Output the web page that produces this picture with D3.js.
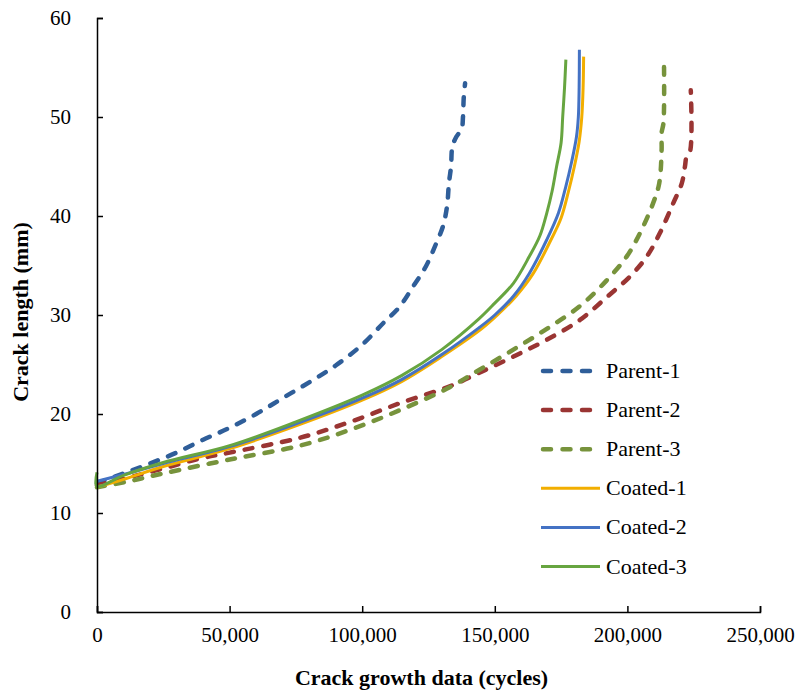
<!DOCTYPE html>
<html>
<head>
<meta charset="utf-8">
<script src="https://cdn.jsdelivr.net/npm/d3@7"></script>
<style>
  html, body { margin: 0; padding: 0; background: #fff; }
  svg { display: block; }
  svg text { font-family: "Liberation Serif", "Times New Roman", Tinos, "DejaVu Serif", serif; fill: #000; }
</style>
</head>
<body>
<svg id="chart" width="802" height="693"></svg>
<script>
// ---- Data ----
const seriesNames = ["Parent-1", "Parent-2", "Parent-3", "Coated-1", "Coated-2", "Coated-3"];

const parent1Cycles = [0, 10000, 20000, 30000, 40000, 50000, 60000, 70000, 80000, 90000, 100000, 108000, 114000, 119000, 124000, 128000, 130500, 132000, 132700, 133500, 134000, 135500, 137500, 138000, 138300, 138800];
const parent1Length = [13.0, 14.0, 15.0, 16.1, 17.4, 18.6, 20.0, 21.6, 23.2, 24.9, 27.0, 29.2, 30.8, 32.8, 34.9, 37.3, 39.0, 41.0, 43.3, 45.0, 47.0, 48.0, 48.8, 50.0, 52.0, 53.4];

const parent2Cycles = [0, 12000, 25000, 38800, 50000, 76500, 95400, 114300, 133000, 144400, 157000, 169600, 182100, 192200, 201000, 207300, 212300, 217300, 220500, 221700, 222300, 223600, 223900];
const parent2Length = [12.8, 13.6, 14.5, 15.5, 16.1, 17.6, 19.2, 21.1, 22.8, 24.2, 25.8, 27.5, 29.5, 31.8, 33.9, 35.9, 38.3, 41.3, 43.3, 45.0, 46.0, 46.5, 52.7];

const parent3Cycles = [0, 12000, 25000, 50000, 76500, 95400, 114300, 133000, 144400, 157000, 169600, 182100, 192200, 199700, 204800, 209700, 212000, 212900, 212900, 213600, 213800];
const parent3Length = [12.6, 13.2, 14.0, 15.4, 16.8, 18.4, 20.4, 22.7, 24.5, 26.5, 28.6, 30.9, 33.5, 35.9, 38.3, 41.3, 43.3, 46.7, 48.4, 49.4, 55.4];

const coated1Cycles = [0, 10000, 25000, 50000, 75000, 100000, 115000, 130000, 145000, 151000, 158000, 164500, 171000, 175000, 177800, 180000, 181800, 182800, 183300, 183500];
const coated1Length = [12.6, 13.4, 14.7, 16.5, 18.8, 21.4, 23.3, 25.8, 28.6, 30.0, 31.9, 34.2, 37.5, 39.8, 42.5, 45.0, 47.5, 50.0, 53.0, 56.1];

const coated2Cycles = [0, 10000, 25000, 50000, 75000, 100000, 115000, 130000, 144000, 150000, 157000, 163000, 169600, 174000, 176800, 179000, 180800, 181500, 181800, 181900];
const coated2Length = [13.2, 13.9, 15.0, 16.7, 19.0, 21.6, 23.5, 26.0, 28.7, 30.0, 31.9, 34.2, 37.6, 40.3, 43.0, 45.5, 48.0, 50.0, 53.0, 56.8];

const coated3Cycles = [0, 0, 10000, 25000, 50000, 75000, 100000, 115000, 130000, 144000, 150000, 157000, 163000, 167000, 169600, 171600, 173300, 175000, 175600, 176300, 176800];
const coated3Length = [14.1, 12.7, 13.8, 15.1, 16.8, 19.2, 21.9, 23.9, 26.5, 29.6, 31.2, 33.2, 35.9, 38.0, 40.3, 42.5, 45.0, 47.4, 50.0, 53.0, 55.8];

const xTicks = [0, 50000, 100000, 150000, 200000, 250000];
const yTicks = [0, 10, 20, 30, 40, 50, 60];

const xTitle = "Crack growth data (cycles)";
const yTitle = "Crack length (mm)";

// ---- Build series table ----
const cyclesList = [parent1Cycles, parent2Cycles, parent3Cycles, coated1Cycles, coated2Cycles, coated3Cycles];
const lengthList = [parent1Length, parent2Length, parent3Length, coated1Length, coated2Length, coated3Length];
const colors = ["#2F5E99", "#9A3533", "#77933C", "#F2AE00", "#4472C4", "#67A540"];
const dashed = [true, true, true, false, false, false];

const series = seriesNames.map((name, i) => ({
  name,
  color: colors[i],
  dashed: dashed[i],
  points: cyclesList[i].map((c, j) => ({ x: c, y: lengthList[i][j] }))
}));

// ---- Layout ----
const FONT = "'Liberation Serif', 'Times New Roman', Tinos, 'DejaVu Serif', serif";
const svg = d3.select("#chart");
const mLeft = 97, mRight = 760, mTop = 18, mBottom = 612;

const x = d3.scaleLinear().domain([0, 250000]).range([mLeft, mRight]);
const y = d3.scaleLinear().domain([0, 60]).range([mBottom, mTop]);

// Lines
const line = d3.line().x(d => x(d.x)).y(d => y(d.y)).curve(d3.curveCatmullRom.alpha(0.5));

svg.append("g").selectAll("path")
  .data(series)
  .join("path")
  .attr("d", d => line(d.points))
  .attr("fill", "none")
  .attr("stroke", d => d.color)
  .attr("stroke-width", d => d.dashed ? 4.5 : 3)
  .attr("stroke-linecap", d => d.dashed ? "round" : "butt")
  .attr("stroke-linejoin", "round")
  .attr("stroke-dasharray", d => d.dashed ? "8,11" : null);

// Axes
const fmt = d3.format(",");
const xAxis = d3.axisBottom(x).tickValues(xTicks).tickFormat(fmt).tickSizeInner(-6).tickSizeOuter(-6).tickPadding(15);
const yAxis = d3.axisLeft(y).tickValues(yTicks).tickSizeInner(-6).tickSizeOuter(-6).tickPadding(26);

const gx = svg.append("g").attr("transform", `translate(0,${mBottom})`).call(xAxis);
const gy = svg.append("g").attr("transform", `translate(${mLeft},0)`).call(yAxis);

[gx, gy].forEach(g => {
  g.attr("font-family", FONT).attr("font-size", 21);
  g.select(".domain").attr("stroke", "#000").attr("stroke-width", 1.5);
  g.selectAll(".tick line").attr("stroke", "#000").attr("stroke-width", 1.5);
  g.selectAll(".tick text")
    .attr("font-family", FONT)
    .attr("font-size", 21)
    .attr("fill", "#000");
});
gx.selectAll(".tick text").attr("dy", "0.71em");

// Axis titles
svg.append("text")
  .attr("x", (mLeft + mRight) / 2 - 7)
  .attr("y", 685)
  .attr("text-anchor", "middle")
  .attr("font-family", FONT)
  .attr("font-size", 22)
  .attr("font-weight", "bold")
  .text(xTitle);

svg.append("text")
  .attr("transform", `translate(28,${(mTop + mBottom) / 2 - 3}) rotate(-90)`)
  .attr("text-anchor", "middle")
  .attr("font-family", FONT)
  .attr("font-size", 22)
  .attr("font-weight", "bold")
  .text(yTitle);

// Legend
const legend = svg.append("g");
const legY0 = 371, legStep = 39.1;
series.forEach((s, i) => {
  const ly = legY0 + i * legStep;
  legend.append("line")
    .attr("x1", s.dashed ? 543 : 541)
    .attr("x2", s.dashed ? 596 : 600)
    .attr("y1", ly).attr("y2", ly)
    .attr("stroke", s.color)
    .attr("stroke-width", s.dashed ? 4.5 : 3)
    .attr("stroke-linecap", s.dashed ? "round" : "butt")
    .attr("stroke-dasharray", s.dashed ? "8,11.5" : null);
  legend.append("text")
    .attr("x", 606)
    .attr("y", ly + 7)
    .attr("font-family", FONT)
    .attr("font-size", 22)
    .text(s.name);
});
</script>
</body>
</html>
